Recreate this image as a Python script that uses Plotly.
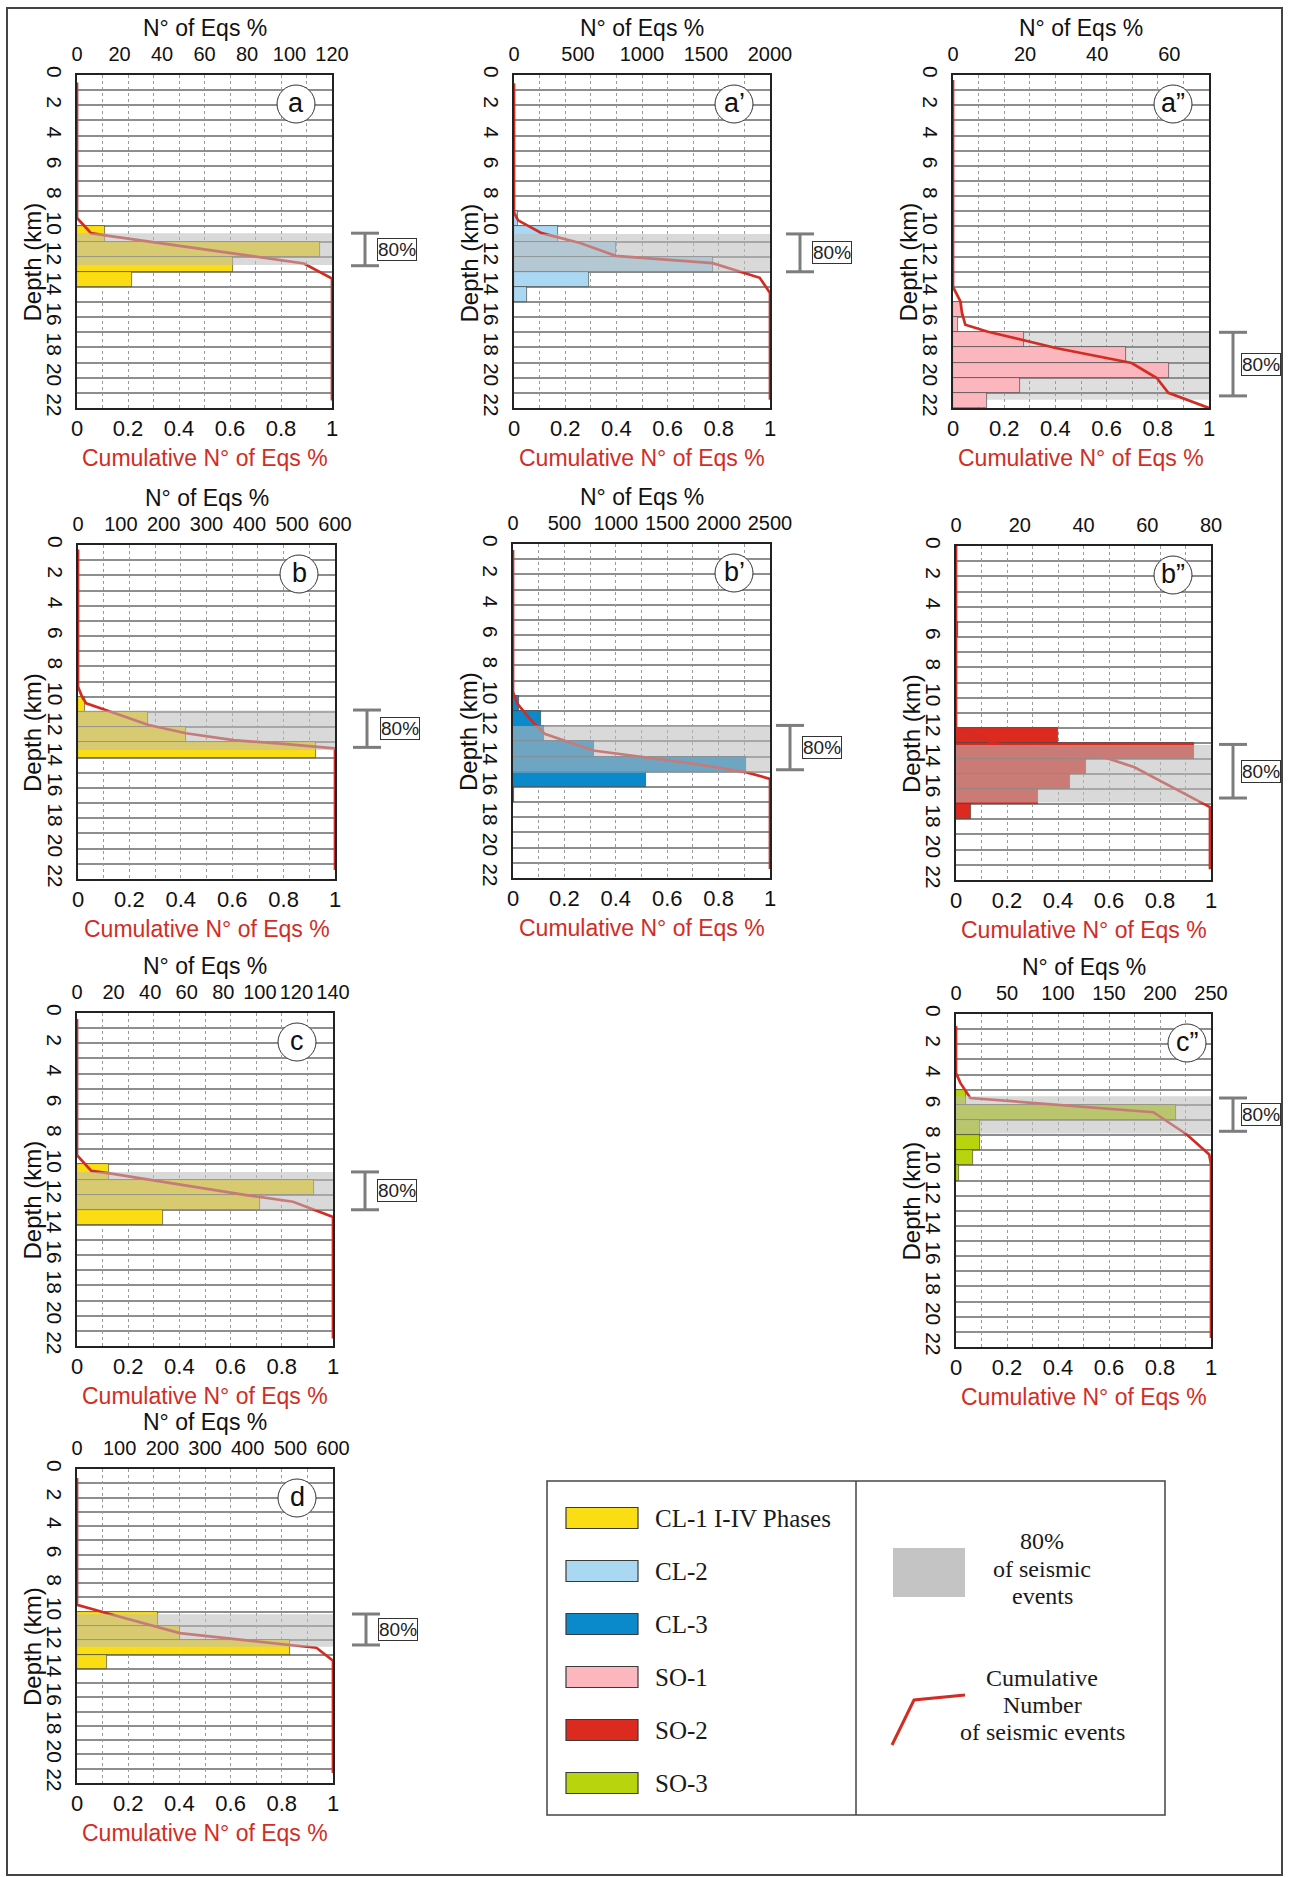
import plotly.graph_objects as go

W, H = 1292, 1877

# ---------------------------------------------------------------- data
DEPTH_TICKS = list(range(0, 23, 2))
CUM_TICKS = [0, 0.2, 0.4, 0.6, 0.8, 1.0]
CUM_LABELS = ["0", "0.2", "0.4", "0.6", "0.8", "1"]

# (a) CL-1 I-IV phases
A_BIN = [10.5, 11.5, 12.5, 13.5]
A_N = [13, 114.5, 73.5, 26]
A_CUM_Z = [0.5, 9.45, 10.45, 10.6, 12.45, 13.45, 21.5]
A_CUM = [0, 0, 0.055, 0.11, 0.89, 1.0, 1.0]
A_TOP = [0, 20, 40, 60, 80, 100, 120]
A_TOP_MAX = 120
A_BAND = [10.45, 12.55]

# (a') CL-2
A1_BIN = [9.5, 10.5, 11.5, 12.5, 13.5, 14.5]
A1_N = [30, 341, 794, 1552, 586, 104]
A1_CUM_Z = [0.55, 9.1, 9.6, 10.45, 11.1, 11.95, 12.43, 13.4, 14.4, 21.45]
A1_CUM = [0, 0, 0.016, 0.108, 0.258, 0.397, 0.776, 0.96, 1.0, 1.0]
A1_TOP = [0, 500, 1000, 1500, 2000]
A1_TOP_MAX = 2000
A1_BAND = [10.5, 13.0]

# (a'') SO-1
A2_BIN = [15.5, 16.5, 17.5, 18.5, 19.5, 20.5, 21.5]
A2_N = [2.5, 1.3, 19.6, 47.9, 60.0, 18.5, 9.4]
A2_CUM_Z = [0.33, 14.0, 14.96, 15.7, 16.5, 16.95, 18.05, 19.03, 20.02, 21.0, 22.0]
A2_CUM = [0, 0, 0.029, 0.035, 0.048, 0.133, 0.406, 0.698, 0.796, 0.841, 1.0]
A2_TOP = [0, 20, 40, 60]
A2_TOP_MAX = 71
A2_BAND = [17.0, 21.45]

# (b) CL-1
B_BIN = [10.5, 11.5, 12.5, 13.5]
B_N = [17, 163, 252, 556]
B_CUM_Z = [0.3, 9.33, 10.0, 10.43, 10.9, 11.86, 12.4, 12.85, 13.1, 13.4, 21.4]
B_CUM = [0, 0, 0.016, 0.032, 0.113, 0.275, 0.42, 0.605, 0.80, 1.0, 1.0]
B_TOP = [0, 100, 200, 300, 400, 500, 600]
B_TOP_MAX = 600
B_BAND = [10.9, 13.5]

# (b') CL-3
B1_BIN = [10.5, 11.5, 12.5, 13.5, 14.5, 15.5, 16.5]
B1_N = [58, 276, 299, 786, 2266, 1289, 6]
B1_CUM_Z = [0.4, 9.75, 10.5, 11.5, 12.5, 13.6, 14.5, 15.03, 15.47, 21.4]
B1_CUM = [0, 0, 0.016, 0.065, 0.123, 0.312, 0.714, 0.906, 1.0, 1.0]
B1_TOP = [0, 500, 1000, 1500, 2000, 2500]
B1_TOP_MAX = 2500
B1_BAND = [11.95, 15.07]

# (b'') SO-2
B2_BIN = [5.5, 12.5, 13.5, 14.5, 15.5, 16.5, 17.5]
B2_N = [0.7, 32.1, 74.7, 40.8, 35.8, 25.8, 4.7]
B2_CUM_Z = [0.0, 12.0, 13.0, 13.86, 14.57, 17.2, 21.3]
B2_CUM = [0, 0, 0.15, 0.571, 0.70, 0.996, 0.996]
B2_TOP = [0, 20, 40, 60, 80]
B2_TOP_MAX = 80
B2_BAND = [13.1, 16.9]

# (c) CL-1
C_BIN = [10.5, 11.5, 12.5, 13.5]
C_N = [17.5, 129.4, 100.3, 47]
C_CUM_Z = [0.4, 9.4, 10.43, 10.6, 12.03, 12.47, 13.47, 21.5]
C_CUM = [0, 0, 0.056, 0.128, 0.661, 0.844, 1.0, 1.0]
C_TOP = [0, 20, 40, 60, 80, 100, 120, 140]
C_TOP_MAX = 140
C_BAND = [10.5, 13.0]

# (c'') SO-3
C2_BIN = [5.5, 6.5, 7.5, 8.5, 9.5, 10.5]
C2_N = [9.8, 216, 23.2, 23.2, 16.6, 2.9]
C2_CUM_Z = [0.8, 3.9, 4.55, 5.55, 6.49, 7.96, 9.28, 9.95, 21.4]
C2_CUM = [0, 0, 0.017, 0.056, 0.774, 0.905, 0.993, 1.0, 1.0]
C2_TOP = [0, 50, 100, 150, 200, 250]
C2_TOP_MAX = 250
C2_BAND = [5.43, 7.9]

# (d) CL-1
D_BIN = [10.5, 11.5, 12.5, 13.5]
D_N = [190, 240.6, 500, 71]
D_CUM_Z = [0.63, 9.52, 10.16, 11.5, 12.33, 12.52, 13.43, 21.3]
D_CUM = [0, 0, 0.128, 0.401, 0.831, 0.935, 1.0, 1.0]
D_TOP = [0, 100, 200, 300, 400, 500, 600]
D_TOP_MAX = 600
D_BAND = [10.18, 12.45]

LEGEND_NAMES = ["CL-1 I-IV Phases", "CL-2", "CL-3", "SO-1", "SO-2", "SO-3"]

# ---------------------------------------------------------------- styles
YELLOW = "#fadd12"
CL2 = "#aad8f2"
CL3 = "#0a8acb"
SO1 = "#fbb7bd"
SO2 = "#dc2a1e"
SO3 = "#b7d40c"
LEGEND_COLORS = [YELLOW, CL2, CL3, SO1, SO2, SO3]
RED = "#d22d24"
AX_FONT = "Liberation Sans Narrow, Arial Narrow, Liberation Sans, Arial, sans-serif"
SERIF = "Liberation Serif, DejaVu Serif, serif"
GRID = "#8e8e8e"

# panel boxes in page pixels: (left, right, top, bottom)
PANELS = [
    dict(tag="a", box=(77, 332, 75, 408), bins=A_BIN, n=A_N, cz=A_CUM_Z, cf=A_CUM,
         top=A_TOP, tmax=A_TOP_MAX, band=A_BAND, color=YELLOW, layer="above",
         brk=(10.45, 12.6), brk_x=365, lab_x=397, circ_dx=36, title=True),
    dict(tag="a’", box=(514, 770, 75, 408), bins=A1_BIN, n=A1_N, cz=A1_CUM_Z, cf=A1_CUM,
         top=A1_TOP, tmax=A1_TOP_MAX, band=A1_BAND, color=CL2, layer="above",
         brk=(10.5, 13.0), brk_x=800, lab_x=832, circ_dx=36, title=True),
    dict(tag="a”", box=(953, 1209, 75, 408), bins=A2_BIN, n=A2_N, cz=A2_CUM_Z, cf=A2_CUM,
         top=A2_TOP, tmax=A2_TOP_MAX, band=A2_BAND, color=SO1, layer="below",
         brk=(17.0, 21.2), brk_x=1233, lab_x=1261, circ_dx=36, title=True),
    dict(tag="b", box=(78, 335, 545, 879), bins=B_BIN, n=B_N, cz=B_CUM_Z, cf=B_CUM,
         top=B_TOP, tmax=B_TOP_MAX, band=B_BAND, color=YELLOW, layer="above",
         brk=(10.87, 13.33), brk_x=367, lab_x=400, circ_dx=36, title=True),
    dict(tag="b’", box=(513, 770, 544, 878), bins=B1_BIN, n=B1_N, cz=B1_CUM_Z, cf=B1_CUM,
         top=B1_TOP, tmax=B1_TOP_MAX, band=B1_BAND, color=CL3, layer="above",
         brk=(11.95, 14.87), brk_x=790, lab_x=822, circ_dx=36, title=True),
    dict(tag="b”", box=(956, 1211, 546, 880), bins=B2_BIN, n=B2_N, cz=B2_CUM_Z, cf=B2_CUM,
         top=B2_TOP, tmax=B2_TOP_MAX, band=B2_BAND, color=SO2, layer="above",
         brk=(13.07, 16.6), brk_x=1233, lab_x=1261, circ_dx=38, title=False),
    dict(tag="c", box=(77, 333, 1013, 1346), bins=C_BIN, n=C_N, cz=C_CUM_Z, cf=C_CUM,
         top=C_TOP, tmax=C_TOP_MAX, band=C_BAND, color=YELLOW, layer="above",
         brk=(10.5, 13.0), brk_x=365, lab_x=397, circ_dx=36, title=True),
    dict(tag="c”", box=(956, 1211, 1014, 1347), bins=C2_BIN, n=C2_N, cz=C2_CUM_Z, cf=C2_CUM,
         top=C2_TOP, tmax=C2_TOP_MAX, band=C2_BAND, color=SO3, layer="above",
         brk=(5.55, 7.75), brk_x=1233, lab_x=1261, circ_dx=24, title=True),
    dict(tag="d", box=(77, 333, 1469, 1783), bins=D_BIN, n=D_N, cz=D_CUM_Z, cf=D_CUM,
         top=D_TOP, tmax=D_TOP_MAX, band=D_BAND, color=YELLOW, layer="above",
         brk=(10.16, 12.33), brk_x=366, lab_x=398, circ_dx=36, title=True),
]


def px(x):
    return x / W


def py(y):
    return 1 - y / H


fig = go.Figure()
layout = dict(width=W, height=H,
              margin=dict(l=0, r=0, t=0, b=0, pad=0, autoexpand=False), autosize=False,
              paper_bgcolor="white", plot_bgcolor="white", showlegend=False,
              bargap=0, font=dict(family=AX_FONT, size=21, color="#111"))
shapes = []
annotations = []


def axis_key(prefix, n):
    return prefix if n == 1 else f"{prefix}{n}"


for i, p in enumerate(PANELS, start=1):
    x0, x1, y0, y1 = p["box"]
    dom_x = [px(x0), px(x1)]
    dom_y = [py(y1), py(y0)]
    n_count = 2 * i - 1   # count axis (top side), base of the subplot
    n_cum = 2 * i         # cumulative axis (bottom side), overlaid
    xc, xk = f"x{n_count}", f"x{n_cum}"
    yk = f"y{i}"

    layout[axis_key("xaxis", n_count)] = dict(
        domain=dom_x, anchor=yk, side="top", range=[0, p["tmax"]], automargin=False,
        tickvals=p["top"], ticks="", showgrid=False, zeroline=False, tickangle=0,
        showline=True, mirror=True, linecolor="#222", linewidth=1.6,
        tickfont=dict(size=20, family=AX_FONT, color="#111"), ticklabelstandoff=4,
        fixedrange=True)
    layout[axis_key("xaxis", n_cum)] = dict(
        domain=dom_x, anchor=yk, side="bottom", overlaying=xc, range=[0, 1],
        automargin=False,
        tickvals=CUM_TICKS, ticktext=CUM_LABELS, ticks="", zeroline=False, tickangle=0,
        showgrid=True, gridcolor="#9a9a9a", griddash="dot", gridwidth=1,
        minor=dict(tickvals=[0.1, 0.3, 0.5, 0.7, 0.9], showgrid=True,
                   gridcolor="#9a9a9a", griddash="dot", gridwidth=1),
        showline=False, tickfont=dict(size=22, family=AX_FONT, color="#111"),
        ticklabelstandoff=5, fixedrange=True)
    layout[axis_key("yaxis", i)] = dict(
        domain=dom_y, anchor=xc, range=[22, 0], tickvals=DEPTH_TICKS, automargin=False,
        tickangle=90, ticks="", zeroline=False, showgrid=True,
        gridcolor=GRID, gridwidth=1.5,
        minor=dict(dtick=1, tick0=0, showgrid=True, gridcolor=GRID, gridwidth=1.5),
        showline=True, mirror=True, linecolor="#222", linewidth=1.6,
        tickfont=dict(size=21, family=AX_FONT, color="#111"), ticklabelstandoff=3,
        fixedrange=True)

    # depth histogram
    fig.add_trace(go.Bar(
        x=p["n"], y=p["bins"], orientation="h", width=1.0, xaxis=xc, yaxis=yk,
        marker=dict(color=p["color"], line=dict(color="rgba(70,70,70,0.85)", width=0.8)),
        hoverinfo="skip"))
    # cumulative curve
    fig.add_trace(go.Scatter(
        x=p["cf"], y=p["cz"], mode="lines", xaxis=xk, yaxis=yk,
        line=dict(color=RED, width=2.7), hoverinfo="skip"))

    # 80 % band
    b0, b1 = p["band"]
    if p["layer"] == "above":
        shapes.append(dict(type="rect", xref=xk, yref=yk, x0=0, x1=1, y0=b0, y1=b1,
                           fillcolor="rgba(188,188,188,0.56)", line=dict(width=0),
                           layer="above"))
    else:
        shapes.append(dict(type="rect", xref=xk, yref=yk, x0=0, x1=1, y0=b0, y1=b1,
                           fillcolor="#dedede", line=dict(width=0), layer="below"))

    # bracket marking the 80 % interval
    zpx = lambda d: y0 + d * (y1 - y0) / 22.0
    r0, r1 = p["brk"]
    bx = p["brk_x"]
    for seg in [((bx, zpx(r0)), (bx, zpx(r1))),
                ((bx - 14, zpx(r0)), (bx + 14, zpx(r0))),
                ((bx - 14, zpx(r1)), (bx + 14, zpx(r1)))]:
        (sx0, sy0), (sx1, sy1) = seg
        shapes.append(dict(type="line", xref="paper", yref="paper",
                           x0=px(sx0), y0=py(sy0), x1=px(sx1), y1=py(sy1),
                           line=dict(color="#7d7d7d", width=3)))
    annotations.append(dict(xref="paper", yref="paper", x=px(p["lab_x"]),
                            y=py(zpx((r0 + r1) / 2)), text="80%", showarrow=False,
                            font=dict(size=19, family=AX_FONT, color="#222"),
                            bordercolor="#333", borderwidth=1, borderpad=0,
                            bgcolor="white", xanchor="center", yanchor="middle"))

    # panel tag in a circle
    cx, cy = x1 - p["circ_dx"], y0 + 29
    shapes.append(dict(type="circle", xref="paper", yref="paper",
                       x0=px(cx - 19), x1=px(cx + 19), y0=py(cy + 19), y1=py(cy - 19),
                       fillcolor="white", line=dict(color="#333", width=1), layer="above"))
    annotations.append(dict(xref="paper", yref="paper", x=px(cx), y=py(cy - 1),
                            text=p["tag"], showarrow=False,
                            font=dict(size=27, family="Liberation Sans, Arial, sans-serif",
                                      color="#111"),
                            xanchor="center", yanchor="middle"))

    xm = (x0 + x1) / 2
    if p["title"]:
        annotations.append(dict(xref="paper", yref="paper", x=px(xm), y=py(y0 - 47),
                                text="N° of Eqs %", showarrow=False,
                                font=dict(size=23, family=AX_FONT, color="#111"),
                                xanchor="center", yanchor="middle"))
    annotations.append(dict(xref="paper", yref="paper", x=px(xm), y=py(y1 + 50),
                            text="Cumulative N° of Eqs %", showarrow=False,
                            font=dict(size=23, family=AX_FONT, color=RED),
                            xanchor="center", yanchor="middle"))
    annotations.append(dict(xref="paper", yref="paper", x=px(x0 - 45),
                            y=py((y0 + y1) / 2 + 21), text="Depth (km)",
                            showarrow=False, textangle=-90,
                            font=dict(size=24, family=AX_FONT, color="#111"),
                            xanchor="center", yanchor="middle"))

# ---------------------------------------------------------------- legend
LX0, LX1, LY0, LY1, LDIV = 547, 1165, 1481, 1815, 856
shapes.append(dict(type="rect", xref="paper", yref="paper", x0=px(LX0), x1=px(LX1),
                   y0=py(LY1), y1=py(LY0), line=dict(color="#444", width=1.5),
                   fillcolor="rgba(0,0,0,0)"))
shapes.append(dict(type="line", xref="paper", yref="paper", x0=px(LDIV), x1=px(LDIV),
                   y0=py(LY1), y1=py(LY0), line=dict(color="#444", width=1.5)))
for k, (name, col) in enumerate(zip(LEGEND_NAMES, LEGEND_COLORS)):
    yc = 1518 + k * 53
    shapes.append(dict(type="rect", xref="paper", yref="paper", x0=px(566), x1=px(638),
                       y0=py(yc + 10.5), y1=py(yc - 10.5), fillcolor=col,
                       line=dict(color="#3a3a3a", width=1.2)))
    annotations.append(dict(xref="paper", yref="paper", x=px(653), y=py(yc), text=name,
                            showarrow=False, xanchor="left", yanchor="middle",
                            font=dict(size=25, family=SERIF, color="#1a1a1a")))

shapes.append(dict(type="rect", xref="paper", yref="paper", x0=px(893), x1=px(965),
                   y0=py(1597), y1=py(1548), fillcolor="#c4c4c4", line=dict(width=0)))
for txt, yy in [("80%", 1541), ("of seismic", 1569), ("events", 1596),
                ("Cumulative", 1678), ("Number", 1705), ("of seismic events", 1732)]:
    annotations.append(dict(xref="paper", yref="paper", x=px(1042), y=py(yy), text=txt,
                            showarrow=False, xanchor="center", yanchor="middle",
                            font=dict(size=24, family=SERIF, color="#1a1a1a")))
shapes.append(dict(type="path", xref="paper", yref="paper",
                   path=f"M {px(892)} {py(1745)} L {px(914)} {py(1700)} L {px(965)} {py(1695)}",
                   line=dict(color=RED, width=3)))

# outer frame
shapes.append(dict(type="rect", xref="paper", yref="paper", x0=px(7), x1=px(1282),
                   y0=py(1875), y1=py(8), line=dict(color="#444", width=2),
                   fillcolor="rgba(0,0,0,0)"))

layout["shapes"] = shapes
layout["annotations"] = annotations
fig.update_layout(**layout)
fig.write_html(
    "out.html",
    config={"responsive": False, "displayModeBar": False},
    post_script="document.body.style.margin='0';document.body.style.overflow='hidden';",
)
